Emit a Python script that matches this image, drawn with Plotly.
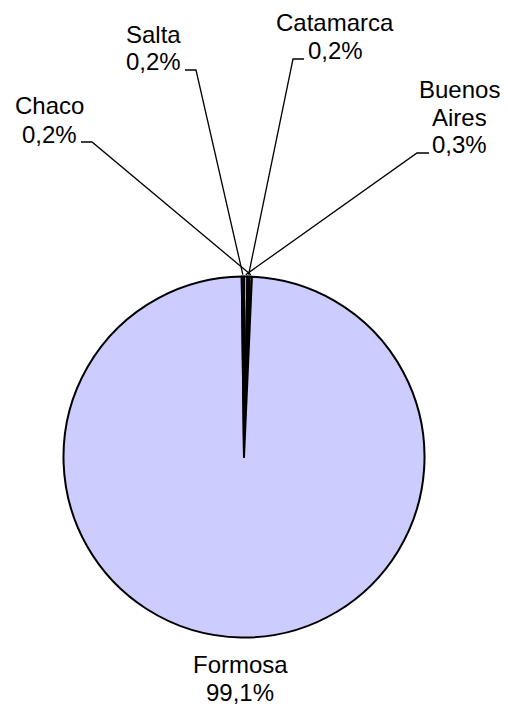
import math
import plotly.graph_objects as go

# ---- data ----
provinces = ["Buenos Aires", "Catamarca", "Chaco", "Formosa", "Salta"]
shares = [0.3, 0.2, 0.2, 99.1, 0.2]
slice_colors = ["#9999FF", "#993366", "#FFFFCC", "#CCCCFF", "#660066"]

# ---- layout constants (pixels, in window coordinates) ----
OFF = 8  # default page body margin
W, H = 508 - OFF, 706 - OFF
CX, CY, R = 244, 457, 180.5
FONT = "Liberation Sans, Arial, sans-serif"
FS = 24
BASE_SHIFT = 8  # baseline offset from annotation middle

label_layout = {
    "Buenos Aires": dict(lines=["Buenos", "Aires"], x=459, base=[97, 125, 153], leader=(429, 417, 153)),
    "Catamarca": dict(lines=["Catamarca"], x=335, base=[31, 59], leader=(304, 293, 59)),
    "Chaco": dict(lines=["Chaco"], x=49, base=[114, 143], leader=(81, 92, 142)),
    "Formosa": dict(lines=["Formosa"], x=240, base=[672, 700], leader=None),
    "Salta": dict(lines=["Salta"], x=153, base=[42, 70], leader=(185, 196, 70)),
}


def px(x):
    return (x - OFF) / W


def py(y):
    return 1 - (y - OFF) / H


fig = go.Figure(
    go.Pie(
        labels=provinces,
        values=shares,
        sort=False,
        direction="clockwise",
        rotation=0,
        textinfo="none",
        hoverinfo="label+percent",
        marker=dict(colors=slice_colors, line=dict(color="black", width=2)),
        domain=dict(x=[px(CX - R), px(CX + R)], y=[py(CY + R), py(CY - R)]),
        showlegend=False,
    )
)

total = sum(shares)
annotations = []
shapes = []
cum = 0.0
for name, v in zip(provinces, shares):
    mid = (cum + v / 2) / total * 2 * math.pi
    cum += v
    lay = label_layout[name]
    pct = f"{v / total * 100:.1f}".replace(".", ",") + "%"
    texts = lay["lines"] + [pct]
    for t, b in zip(texts, lay["base"]):
        annotations.append(
            dict(
                text=t, x=px(lay["x"]), y=py(b - BASE_SHIFT), xref="paper", yref="paper",
                xanchor="center", yanchor="middle", showarrow=False,
                font=dict(family=FONT, size=FS, color="black"),
            )
        )
    if lay["leader"]:
        x0, x1, y0 = lay["leader"]
        ex = CX + R * 1.01 * math.sin(mid)
        ey = CY - R * 1.01 * math.cos(mid)
        shapes.append(
            dict(
                type="path", xref="paper", yref="paper",
                path=f"M {px(x0)} {py(y0)} L {px(x1)} {py(y0)} L {px(ex)} {py(ey)}",
                line=dict(color="black", width=1.3),
            )
        )

fig.update_layout(
    width=W, height=H,
    margin=dict(l=0, r=0, t=0, b=0),
    paper_bgcolor="white", plot_bgcolor="white",
    annotations=annotations, shapes=shapes,
)

fig.write_html("out.html")
